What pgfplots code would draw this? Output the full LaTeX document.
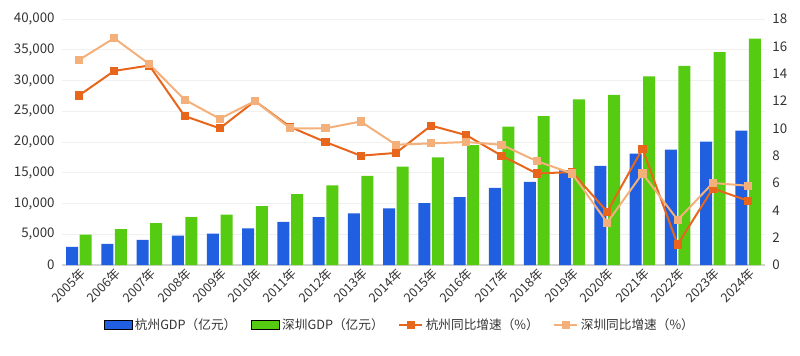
\documentclass[border=0pt]{standalone}
\usepackage{fontspec}
\setmainfont{Noto Sans CJK SC}
\usepackage{pgfplots}
\usepackage{pgfplotstable}
\pgfplotsset{compat=1.18}
\definecolor{hzblue}{HTML}{1F5FE0}
\definecolor{szgreen}{HTML}{55CC11}
\definecolor{hzorange}{HTML}{E8661C}
\definecolor{szorange}{HTML}{F4B07A}
\definecolor{txt}{HTML}{333333}

\pgfplotstableread{
x year hz sz hzg szg
0 2005 2943 4951 12.4 15.0
1 2006 3441 5814 14.2 16.6
2 2007 4104 6802 14.6 14.7
3 2008 4781 7787 10.9 12.1
4 2009 5087 8201 10.0 10.7
5 2010 5949 9582 12.0 12.0
6 2011 7012 11506 10.1 10.0
7 2012 7804 12950 9.0 10.0
8 2013 8399 14500 8.0 10.5
9 2014 9206 16002 8.2 8.8
10 2015 10054 17503 10.2 8.9
11 2016 11050 19493 9.5 9.0
12 2017 12556 22490 8.0 8.8
13 2018 13509 24222 6.7 7.6
14 2019 15373 26927 6.8 6.7
15 2020 16106 27670 3.9 3.1
16 2021 18109 30665 8.5 6.7
17 2022 18753 32388 1.5 3.3
18 2023 20059 34606 5.6 6.0
19 2024 21860 36802 4.7 5.8
}\data

\begin{document}
\begin{tikzpicture}
\pgfplotsset{
  every axis/.append style={
    scale only axis, width=527.25pt, height=184.5pt,
    at={(0,0)}, anchor=south west,
    xmin=-0.48, xmax=19.48,
    font=\fontsize{10}{12}\selectfont,
    tick label style={text=txt},
    major tick length=0pt,
  },
  barleg/.style={legend image code/.code={\fill[fill=#1] (0pt,-3.2pt) rectangle (21pt,3.2pt);}},
}
\begin{axis}[
  ymin=0, ymax=40000, ytick={0,5000,...,40000},
  scaled y ticks=false,
  yticklabel style={/pgf/number format/.cd, 1000 sep={,}, fixed, assume math mode=true},
  xtick={0,...,19},
  xticklabels={2005年,2006年,2007年,2008年,2009年,2010年,2011年,2012年,2013年,2014年,2015年,2016年,2017年,2018年,2019年,2020年,2021年,2022年,2023年,2024年},
  xticklabel style={rotate=45, anchor=north east, inner sep=1pt, font=\fontsize{9.5}{11}\selectfont},
  ymajorgrids, grid style={gray!12, line width=0.6pt},
  axis x line*=bottom, axis y line*=left,
  x axis line style={gray!35, line width=0.8pt},
  y axis line style={draw=none},
  yticklabel shift=2pt,
]
\addplot[ybar, bar width=9pt, bar shift=-5.1pt, fill=hzblue, draw=none] table[x=x, y=hz] {\data};
\addplot[ybar, bar width=9pt, bar shift=5.1pt, fill=szgreen, draw=none] table[x=x, y=sz] {\data};
\end{axis}
\begin{axis}[
  ymin=0, ymax=18, ytick={0,2,...,18},
  yticklabel style={/pgf/number format/assume math mode=true},
  axis y line*=right, axis x line=none,
  y axis line style={draw=none},
  yticklabel shift=2pt,
  legend style={at={(0.481,-0.244)}, anchor=center, draw=none, fill=none,
    legend columns=4, font=\fontsize{9.5}{11}\selectfont, text=txt,
    /tikz/every even column/.append style={column sep=9pt}},
]
\addlegendimage{barleg=hzblue}
\addlegendentry{杭州GDP（亿元）}
\addlegendimage{barleg=szgreen}
\addlegendentry{深圳GDP（亿元）}
\addplot[hzorange, line width=1.5pt, mark=square*, mark size=2.3pt, mark options={solid}] table[x=x, y=hzg] {\data};
\addlegendentry{杭州同比增速（\%）}
\addplot[szorange, line width=1.5pt, mark=square*, mark size=2.3pt, mark options={solid}] table[x=x, y=szg] {\data};
\addlegendentry{深圳同比增速（\%）}
\end{axis}
\pgfresetboundingbox
\useasboundingbox (-46.5pt,-67.5pt) rectangle (553.5pt,198.75pt);
\end{tikzpicture}
\end{document}
